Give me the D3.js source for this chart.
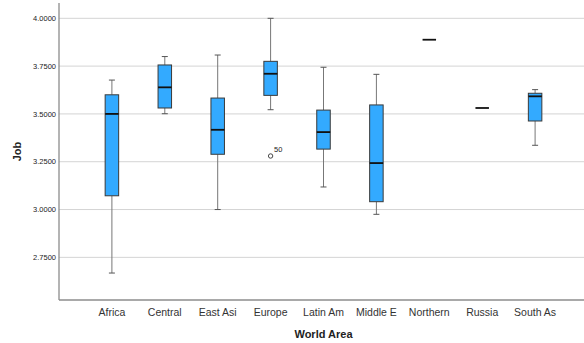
<!DOCTYPE html>
<html>
<head>
<meta charset="utf-8">
<script src="https://cdn.jsdelivr.net/npm/d3@7"></script>
<style>
  body { margin: 0; background: #fff; }
  text { font-family: "Liberation Sans", Arial, sans-serif; }
</style>
</head>
<body>
<div id="chart"></div>
<script>
const areas = ['Africa', 'Central', 'East Asi', 'Europe', 'Latin Am', 'Middle E', 'Northern', 'Russia', 'South As'];
const whiskerLow  = [2.668, 3.501, 3.000, 3.522, 3.118, 2.975, 3.888, 3.531, 3.336];
const q1          = [3.072, 3.531, 3.289, 3.597, 3.316, 3.041, 3.888, 3.531, 3.463];
const medians     = [3.500, 3.639, 3.417, 3.710, 3.405, 3.243, 3.888, 3.531, 3.592];
const q3          = [3.600, 3.756, 3.583, 3.775, 3.520, 3.547, 3.888, 3.531, 3.608];
const whiskerHigh = [3.677, 3.800, 3.808, 4.000, 3.744, 3.707, 3.888, 3.531, 3.627];
const outliers = [{ area: 'Europe', value: 3.280, label: '50' }];
const yTicks = [2.75, 3.0, 3.25, 3.5, 3.75, 4.0];

const W = 584, H = 343;
const plotLeft = 59, plotTop = 3, plotBottom = 300, plotRight = 588;

const boxes = areas.map((a, i) => ({
  area: a, lo: whiskerLow[i], q1: q1[i], med: medians[i], q3: q3[i], hi: whiskerHigh[i]
}));

const svg = d3.select("#chart").append("svg")
  .attr("width", W)
  .attr("height", H);

const x = d3.scalePoint()
  .domain(areas)
  .range([plotLeft, plotRight])
  .padding(1);

const y = d3.scaleLinear()
  .domain([2.527, 4.08])
  .range([plotBottom, plotTop]);

// grid lines
svg.append("g")
  .selectAll("line")
  .data(yTicks)
  .join("line")
  .attr("x1", plotLeft).attr("x2", W)
  .attr("y1", d => y(d)).attr("y2", d => y(d))
  .style("stroke", "#d4d4d4")
  .style("stroke-width", 1);

// y tick labels
svg.append("g")
  .selectAll("text")
  .data(yTicks)
  .join("text")
  .attr("x", plotLeft - 3)
  .attr("y", d => y(d))
  .attr("dy", "0.35em")
  .attr("text-anchor", "end")
  .style("font-size", "7.5px")
  .style("fill", "#222")
  .text(d3.format(".4f"));

// x labels
svg.append("g")
  .selectAll("text")
  .data(areas)
  .join("text")
  .attr("x", d => x(d))
  .attr("y", 315.5)
  .attr("text-anchor", "middle")
  .style("font-size", "10.5px")
  .style("fill", "#333")
  .text(d => d);

// axes lines
svg.append("line")
  .attr("x1", plotLeft).attr("x2", plotLeft)
  .attr("y1", plotTop).attr("y2", plotBottom)
  .style("stroke", "#8c8c8c").style("stroke-width", 1.3);
svg.append("line")
  .attr("x1", plotLeft).attr("x2", W)
  .attr("y1", plotBottom).attr("y2", plotBottom)
  .style("stroke", "#8c8c8c").style("stroke-width", 1.3);

const bw = 13.5, cap = 6;
const g = svg.append("g")
  .selectAll("g")
  .data(boxes)
  .join("g")
  .attr("transform", d => "translate(" + x(d.area) + ",0)");

// whiskers
g.filter(d => d.hi > d.lo).each(function(d) {
  const s = d3.select(this);
  s.append("line")
    .attr("x1", 0).attr("x2", 0)
    .attr("y1", y(d.hi)).attr("y2", y(d.q3))
    .style("stroke", "#777").style("stroke-width", 1);
  s.append("line")
    .attr("x1", 0).attr("x2", 0)
    .attr("y1", y(d.q1)).attr("y2", y(d.lo))
    .style("stroke", "#777").style("stroke-width", 1);
  [d.hi, d.lo].forEach(v => {
    s.append("line")
      .attr("x1", -cap / 2).attr("x2", cap / 2)
      .attr("y1", y(v)).attr("y2", y(v))
      .style("stroke", "#555").style("stroke-width", 1);
  });
});

// boxes
g.filter(d => d.q3 > d.q1)
  .append("rect")
  .attr("x", -bw / 2)
  .attr("width", bw)
  .attr("y", d => y(d.q3))
  .attr("height", d => y(d.q1) - y(d.q3))
  .style("fill", "#33aaff")
  .style("stroke", "#3a3a3a")
  .style("stroke-width", 1);

// medians
g.append("line")
  .attr("x1", -bw / 2).attr("x2", bw / 2)
  .attr("y1", d => y(d.med)).attr("y2", d => y(d.med))
  .style("stroke", "#111")
  .style("stroke-width", 1.8);

// outliers
const o = svg.append("g")
  .selectAll("g")
  .data(outliers)
  .join("g");
o.append("circle")
  .attr("cx", d => x(d.area))
  .attr("cy", d => y(d.value))
  .attr("r", 2.2)
  .style("fill", "#fff")
  .style("stroke", "#333")
  .style("stroke-width", 0.9);
o.append("text")
  .attr("x", d => x(d.area) + 3.5)
  .attr("y", d => y(d.value) - 3.5)
  .style("font-size", "7.5px")
  .style("fill", "#222")
  .text(d => d.label);

// axis titles
svg.append("text")
  .attr("x", (plotLeft + plotRight) / 2)
  .attr("y", 338)
  .attr("text-anchor", "middle")
  .style("font-size", "11px")
  .style("font-weight", "bold")
  .style("fill", "#222")
  .text("World Area");

svg.append("text")
  .attr("transform", "translate(21," + ((plotTop + plotBottom) / 2) + ") rotate(-90)")
  .attr("text-anchor", "middle")
  .style("font-size", "11px")
  .style("font-weight", "bold")
  .style("fill", "#222")
  .text("Job");
</script>
</body>
</html>
